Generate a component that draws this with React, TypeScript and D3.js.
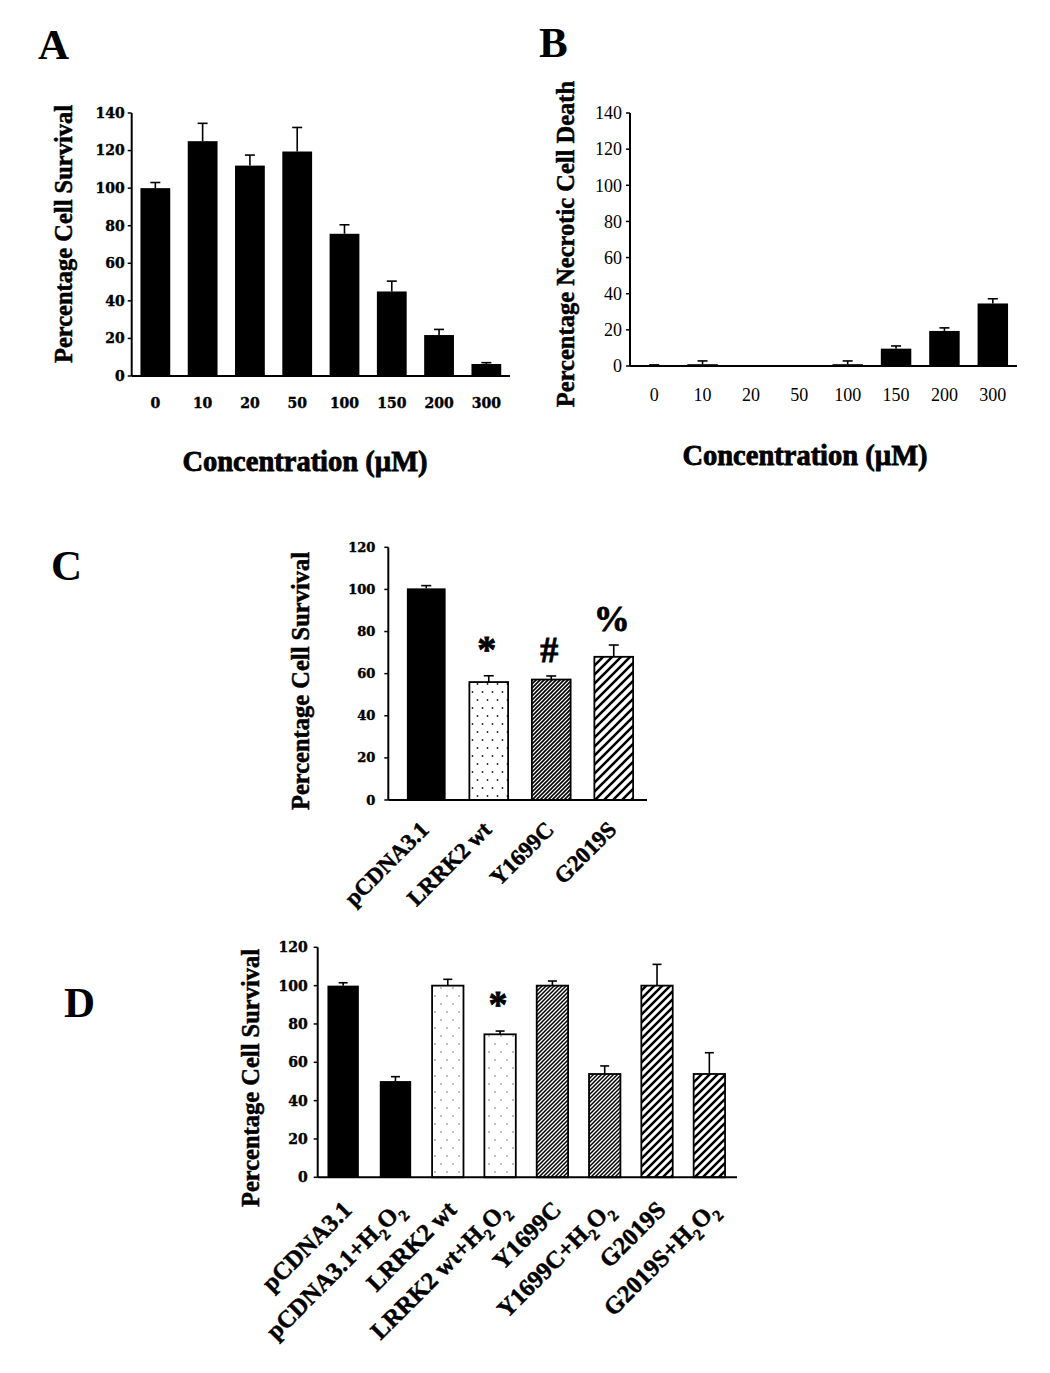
import React from "react";
import * as d3 from "d3";

// ---------- DATA ----------
const concentrations = ["0", "10", "20", "50", "100", "150", "200", "300"];
const survivalA = [100, 125, 112, 119.5, 75.7, 45, 21.8, 6.4];
const survivalAErr = [3, 9.5, 5.6, 12.8, 4.8, 5.5, 3, 0.7];
const necroticB = [0, 1, 0, 0, 1, 9.6, 19.4, 34.6];
const necroticBErr = [0.6, 1.8, 0, 0, 1.8, 1.5, 1.7, 2.6];
const ticksA = [0, 20, 40, 60, 80, 100, 120, 140];

const constructsC = ["pCDNA3.1", "LRRK2 wt", "Y1699C", "G2019S"];
const survivalC = [100.5, 56, 57.2, 68];
const survivalCErr = [1.3, 3, 1.7, 5.6];
const markersC = ["", "*", "#", "%"];

const conditionsD = [
  "pCDNA3.1",
  "pCDNA3.1+H2O2",
  "LRRK2 wt",
  "LRRK2 wt+H2O2",
  "Y1699C",
  "Y1699C+H2O2",
  "G2019S",
  "G2019S+H2O2",
];
const survivalD = [100, 50.2, 100, 74.6, 100, 53.9, 100, 53.9];
const survivalDErr = [1.5, 2.3, 3.3, 1.7, 2.4, 4.2, 11.1, 11.1];
const markersD = ["", "", "", "*", "", "", "", ""];
const ticksCD = [0, 20, 40, 60, 80, 100, 120];

// ---------- STYLE ----------
const SERIF = "'Liberation Serif', 'Times New Roman', serif";
const WIDE = "'DejaVu Serif', serif";

function fillFor(name: string, panel: string) {
  if (name.startsWith("LRRK2")) return `url(#dots${panel})`;
  if (name.startsWith("Y1699C")) return `url(#dense${panel})`;
  if (name.startsWith("G2019S")) return `url(#sparse${panel})`;
  return "#000";
}

function renderLabel(label: string, size: number) {
  const parts = label.split("H2O2");
  if (parts.length === 1) return label;
  const sub = Math.round(size * 0.65);
  return (
    <>
      {parts[0]}H
      <tspan dy={7} fontSize={sub}>2</tspan>
      <tspan dy={-7}>O</tspan>
      <tspan dy={7} fontSize={sub}>2</tspan>
    </>
  );
}

type PanelProps = {
  id: string;
  cats: string[];
  values: number[];
  errs: number[];
  markers?: string[];
  yMax: number;
  ticks: number[];
  x0: number;
  x1: number;
  axisX: number;
  axisEnd: number;
  yBottom: number;
  yTop: number;
  padding: number;
  tickFont: string;
  tickWeight: string | number;
  tickSize: number;
  tickGap: number;
  xLabelY?: number;
  rotated?: boolean;
  rotSize?: number;
  rotDx?: number;
  rotDy?: number;
  capW: number;
  tickStroke?: number;
};

function Panel(p: PanelProps) {
  const x = d3
    .scaleBand<string>()
    .domain(p.cats)
    .range([p.x0, p.x1])
    .paddingInner(p.padding)
    .paddingOuter(p.padding / 2);
  const y = d3.scaleLinear().domain([0, p.yMax]).range([p.yBottom, p.yTop]);
  const bw = x.bandwidth();
  return (
    <g>
      {p.cats.map((c, i) => {
        const bx = x(c)!;
        const v = p.values[i];
        const fill = fillFor(c, p.id);
        const outlined = fill !== "#000";
        return (
          <g key={c}>
            {v > 0 && (
              <rect
                x={bx}
                y={y(v)}
                width={bw}
                height={y(0) - y(v)}
                fill={fill}
                stroke="#000"
                strokeWidth={outlined ? 1.8 : 0}
              />
            )}
            {p.errs[i] > 0 && (
              <g stroke="#000" strokeWidth={1.6}>
                <line x1={bx + bw / 2} x2={bx + bw / 2} y1={y(v)} y2={y(v + p.errs[i])} />
                <line
                  x1={bx + bw / 2 - p.capW / 2}
                  x2={bx + bw / 2 + p.capW / 2}
                  y1={y(v + p.errs[i])}
                  y2={y(v + p.errs[i])}
                />
              </g>
            )}
            {p.markers && p.markers[i] && (
              <text
                x={bx + bw / 2 - 2}
                y={y(v + p.errs[i]) - 14}
                textAnchor="middle"
                fontFamily={SERIF}
                fontWeight="bold"
                fontSize={p.markers[i] === "*" ? 38 : 36}
                stroke="#000"
                strokeWidth={0.8}
              >
                {p.markers[i]}
              </text>
            )}
            {!p.rotated && (
              <text
                x={bx + bw / 2}
                y={p.xLabelY}
                textAnchor="middle"
                fontFamily={p.tickFont}
                fontWeight={p.tickWeight}
                fontSize={p.tickSize}
                stroke={p.tickStroke ? "#000" : "none"}
                strokeWidth={p.tickStroke || 0}
              >
                {c}
              </text>
            )}
            {p.rotated && (
              <text
                transform={`translate(${bx + bw / 2 + (p.rotDx || 0)},${p.yBottom + (p.rotDy || 0)}) rotate(-45)`}
                textAnchor="end"
                fontFamily={SERIF}
                fontWeight="bold"
                fontSize={p.rotSize}
                stroke="#000"
                strokeWidth={0.5}
              >
                {renderLabel(c, p.rotSize || 22)}
              </text>
            )}
          </g>
        );
      })}
      {/* axes */}
      <line x1={p.axisX} x2={p.axisX} y1={y(p.yMax)} y2={y(0)} stroke="#000" strokeWidth={2} />
      <line x1={p.axisX} x2={p.axisEnd} y1={y(0)} y2={y(0)} stroke="#000" strokeWidth={2} />
      {p.ticks.map((t) => (
        <g key={t}>
          <line x1={p.axisX - 4} x2={p.axisX} y1={y(t)} y2={y(t)} stroke="#000" strokeWidth={1.5} />
          <text
            x={p.axisX - p.tickGap}
            y={y(t)}
            dy="0.35em"
            textAnchor="end"
            fontFamily={p.tickFont}
            fontWeight={p.tickWeight}
            fontSize={p.tickSize}
            stroke={p.tickStroke ? "#000" : "none"}
            strokeWidth={p.tickStroke || 0}
          >
            {t}
          </text>
        </g>
      ))}
    </g>
  );
}

function Patterns({ id, dotW, dotH, dotColor, dotR, dense, denseW, sparse, sparseW }: any) {
  return (
    <>
      <pattern id={`dots${id}`} patternUnits="userSpaceOnUse" width={dotW} height={dotH}>
        <rect width={dotW} height={dotH} fill="#fff" />
        <circle cx={dotW * 0.25} cy={dotH * 0.25} r={dotR} fill={dotColor} />
        <circle cx={dotW * 0.75} cy={dotH * 0.75} r={dotR} fill={dotColor} />
      </pattern>
      <pattern id={`dense${id}`} patternUnits="userSpaceOnUse" width={dense} height={dense}>
        <rect width={dense} height={dense} fill="#fff" />
        <path
          d={`M0,${dense} L${dense},0 M${-dense / 2},${dense / 2} L${dense / 2},${-dense / 2} M${dense / 2},${dense * 1.5} L${dense * 1.5},${dense / 2}`}
          stroke="#000"
          strokeWidth={denseW}
        />
      </pattern>
      <pattern id={`sparse${id}`} patternUnits="userSpaceOnUse" width={sparse} height={sparse}>
        <rect width={sparse} height={sparse} fill="#fff" />
        <path
          d={`M0,${sparse} L${sparse},0 M${-sparse / 2},${sparse / 2} L${sparse / 2},${-sparse / 2} M${sparse / 2},${sparse * 1.5} L${sparse * 1.5},${sparse / 2}`}
          stroke="#000"
          strokeWidth={sparseW}
        />
      </pattern>
    </>
  );
}

function YTitle({ x, y, text, size }: { x: number; y: number; text: string; size: number }) {
  return (
    <text
      transform={`translate(${x},${y}) rotate(-90)`}
      textAnchor="middle"
      dominantBaseline="middle"
      fontFamily={SERIF}
      fontWeight="bold"
      fontSize={size}
      stroke="#000"
      strokeWidth={0.5}
    >
      {text}
    </text>
  );
}

function XTitle({ x, y, text }: { x: number; y: number; text: string }) {
  return (
    <text
      x={x}
      y={y}
      textAnchor="middle"
      fontFamily={SERIF}
      fontWeight="bold"
      fontSize={28.5}
      stroke="#000"
      strokeWidth={0.8}
    >
      {text}
    </text>
  );
}

export default function App() {
  return (
    <svg
      width={1050}
      height={1373}
      style={{ position: "absolute", left: 0, top: 0, background: "#fff" }}
    >
      <defs>
        <Patterns id="C" dotW={10} dotH={16} dotColor="#222" dotR={0.9} dense={4} denseW={1.6} sparse={9} sparseW={2.6} />
        <Patterns id="D" dotW={12} dotH={16} dotColor="#777" dotR={0.8} dense={4} denseW={1.5} sparse={8} sparseW={2.5} />
      </defs>
      <rect width={1050} height={1373} fill="#fff" />

      {/* Panel letters */}
      <text x={38} y={59} fontFamily={SERIF} fontWeight="bold" fontSize={43}>A</text>
      <text x={539} y={57} fontFamily={SERIF} fontWeight="bold" fontSize={43}>B</text>
      <text x={51} y={580} fontFamily={SERIF} fontWeight="bold" fontSize={43}>C</text>
      <text x={64} y={1017} fontFamily={SERIF} fontWeight="bold" fontSize={43}>D</text>

      {/* Panel A */}
      <Panel
        id="A"
        cats={concentrations}
        values={survivalA}
        errs={survivalAErr}
        yMax={140}
        ticks={ticksA}
        x0={131.7}
        x1={510}
        axisX={131.7}
        axisEnd={510}
        yBottom={376}
        yTop={113}
        padding={0.37}
        tickFont={WIDE}
        tickWeight="bold"
        tickSize={14}
        tickGap={7}
        xLabelY={408}
        capW={10}
        tickStroke={0.4}
      />
      <YTitle x={66} y={234} text="Percentage Cell Survival" size={24.5} />
      <XTitle x={305} y={471} text="Concentration (µM)" />

      {/* Panel B */}
      <Panel
        id="B"
        cats={concentrations}
        values={necroticB}
        errs={necroticBErr}
        yMax={140}
        ticks={ticksA}
        x0={630}
        x1={1017}
        axisX={630}
        axisEnd={1017}
        yBottom={366}
        yTop={113}
        padding={0.37}
        tickFont={SERIF}
        tickWeight="normal"
        tickSize={18}
        tickGap={8}
        xLabelY={401}
        capW={10}
      />
      <YTitle x={568} y={244} text="Percentage Necrotic Cell Death" size={24.5} />
      <XTitle x={805} y={465} text="Concentration (µM)" />

      {/* Panel C */}
      <Panel
        id="C"
        cats={constructsC}
        values={survivalC}
        errs={survivalCErr}
        markers={markersC}
        yMax={120}
        ticks={ticksCD}
        x0={395}
        x1={645}
        axisX={388.3}
        axisEnd={647}
        yBottom={800}
        yTop={547.3}
        padding={0.38}
        tickFont={WIDE}
        tickWeight="bold"
        tickSize={13}
        tickGap={13}
        rotated
        rotSize={23}
        rotDx={4}
        rotDy={31}
        capW={10}
        tickStroke={0.4}
      />
      <YTitle x={303} y={681} text="Percentage Cell Survival" size={24.5} />

      {/* Panel D */}
      <Panel
        id="D"
        cats={conditionsD}
        values={survivalD}
        errs={survivalDErr}
        markers={markersD}
        yMax={120}
        ticks={ticksCD}
        x0={317}
        x1={735.5}
        axisX={317.7}
        axisEnd={737}
        yBottom={1177.3}
        yTop={947.3}
        padding={0.4}
        tickFont={WIDE}
        tickWeight="bold"
        tickSize={14}
        tickGap={10}
        rotated
        rotSize={24.5}
        rotDx={10}
        rotDy={34}
        capW={9}
        tickStroke={0.4}
      />
      <YTitle x={253} y={1078} text="Percentage Cell Survival" size={24.5} />
    </svg>
  );
}
